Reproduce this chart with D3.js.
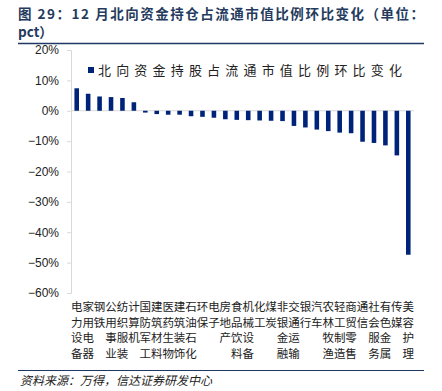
<!DOCTYPE html>
<html>
<head>
<meta charset="utf-8">
<script src="https://cdn.jsdelivr.net/npm/d3@7/dist/d3.min.js"></script>
<style>
  body { margin: 0; background: #fff; }
  svg { display: block; }
</style>
</head>
<body>
<svg width="442" height="391"></svg>
<script>
// industry names (top to bottom of each label column)
var categories = ['电力设备', '家用电器', '钢铁', '公用事业', '纺织服装', '计算机', '国防军工', '建筑材料',
    '医药生物', '建筑装饰', '石油石化', '环保', '电子', '房地产', '食品饮料', '机械设备', '化工', '煤炭',
    '非银金融', '交通运输', '银行', '汽车', '农林牧渔', '轻工制造', '商贸零售', '通信', '社会服务',
    '有色金属', '传媒', '美容护理']

// change of northbound holding share, pct
var values = [7.4, 5.6, 4.7, 4.5, 4.2, 2.8, -0.6, -1.1, -1.3, -1.3, -1.8, -2.0, -2.3, -2.8, -3.0,
    -3.1, -3.2, -3.3, -3.4, -5.0, -5.5, -6.2, -6.7, -7.2, -7.4, -10.2, -10.6, -11.4, -14.7, -47.4]

var yTicks = [20, 10, 0, -10, -20, -30, -40, -50, -60]
var legendLabel = '北向资金持股占流通市值比例环比变化'

var cjk = '"Noto Sans CJK SC", sans-serif'
var svg = d3.select('svg')

//title, stretched to the full width like the report style
svg.append('text').attr('x', 18).attr('y', 19)
    .attr('textLength', 406).attr('lengthAdjust', 'spacing')
    .style('font', 'bold 13.5px ' + cjk).style('fill', '#243b5e')
    .text('图 29：12 月北向资金持仓占流通市值比例环比变化（单位：')
svg.append('text').attr('x', 18).attr('y', 37)
    .style('font', 'bold 13.5px ' + cjk).style('fill', '#243b5e')
    .text('pct）')
svg.append('line').attr('x1', 18).attr('x2', 424).attr('y1', 43.5).attr('y2', 43.5)
    .style('stroke', '#1f3864').style('stroke-width', 1.6)

//scales
var x = d3.scaleBand().domain(categories).range([71, 414]).paddingInner(0.6).paddingOuter(0.3)
var y = d3.scaleLinear().domain([-60, 20]).range([293, 50])

//y axis
var yAxis = svg.append('g').attr('transform', 'translate(71,0)')
    .call(d3.axisLeft(y).tickValues(yTicks).tickSize(4).tickPadding(8)
        .tickFormat(function (d) { return d + '%' }))
yAxis.select('.domain').style('stroke', '#d9d9d9')
yAxis.selectAll('.tick line').style('stroke', '#d9d9d9')
yAxis.selectAll('text').style('font', '12px "Liberation Sans", Arial, sans-serif').style('fill', '#222')
    .text(function (d) { return (d < 0 ? '\u2212' + (-d) : d) + '%' })

//zero line
svg.append('line').attr('x1', 71).attr('x2', 414).attr('y1', y(0)).attr('y2', y(0))
    .style('stroke', '#d9d9d9').style('stroke-width', 1)

//bars
svg.selectAll('rect.bar').data(values).enter().append('rect')
    .attr('class', 'bar')
    .attr('x', function (d, i) { return x(categories[i]) })
    .attr('width', x.bandwidth())
    .attr('y', function (d) { return y(Math.max(0, d)) })
    .attr('height', function (d) { return Math.abs(y(d) - y(0)) })
    .style('fill', '#00237a')

//category labels written vertically, one character per row
var labels = svg.selectAll('g.cat').data(categories).enter().append('g')
    .attr('class', 'cat')
    .attr('transform', function (d) { return 'translate(' + (x(d) + x.bandwidth() / 2) + ',0)' })
labels.each(function (d) {
    var g = d3.select(this)
    d.split('').forEach(function (c, j) {
        g.append('text').attr('x', 0).attr('y', 311 + j * 15.5)
            .attr('text-anchor', 'middle')
            .style('font', '11.5px ' + cjk).style('fill', '#222')
            .text(c)
    })
})

//legend
svg.append('rect').attr('x', 88).attr('y', 67).attr('width', 6).attr('height', 6).style('fill', '#00237a')
svg.append('text').attr('x', 98).attr('y', 75)
    .attr('textLength', 304).attr('lengthAdjust', 'spacing')
    .style('font', '13px ' + cjk).style('fill', '#222')
    .text(legendLabel)

//source
svg.append('line').attr('x1', 18).attr('x2', 424).attr('y1', 370.5).attr('y2', 370.5)
    .style('stroke', '#1f3864').style('stroke-width', 1.2)
svg.append('text').attr('x', 20).attr('y', 385)
    .style('font', 'italic 12px ' + cjk).style('fill', '#222')
    .text('资料来源：万得，信达证券研发中心')
</script>
</body>
</html>
